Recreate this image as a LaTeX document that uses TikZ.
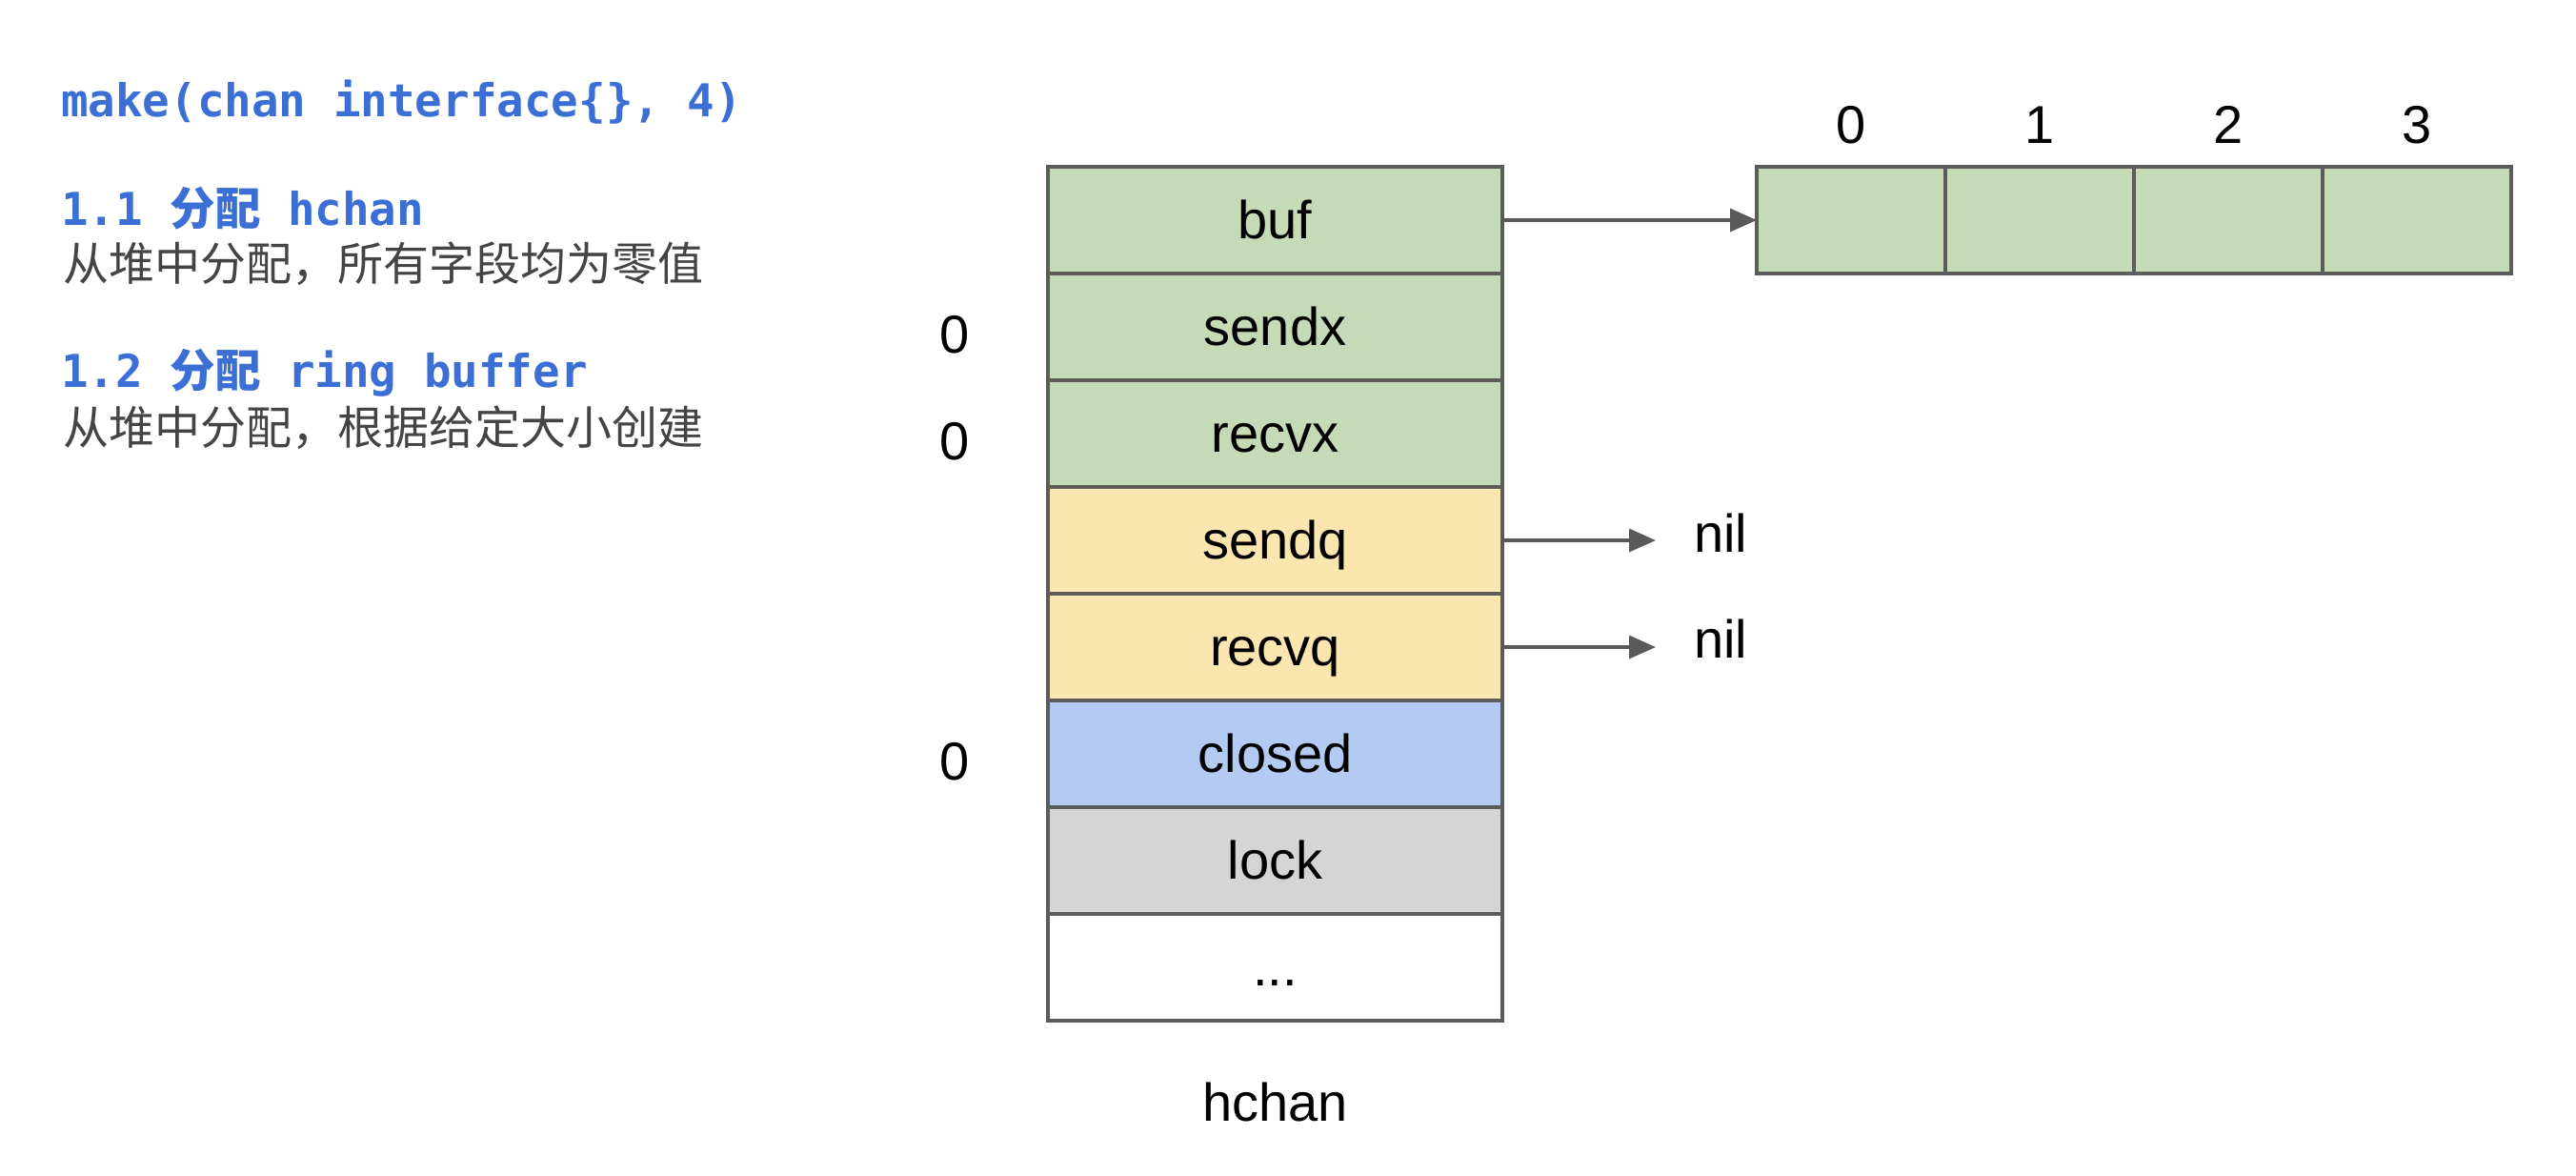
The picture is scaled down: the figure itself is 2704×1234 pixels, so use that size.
\documentclass[tikz,border=0pt]{standalone}
\usepackage{fontspec}
\setmainfont{Liberation Sans}
\newfontfamily\monof{DejaVu Sans Mono}
\newfontfamily\cjkf{Noto Sans CJK SC}
\usetikzlibrary{arrows.meta}
\definecolor{titleblue}{HTML}{3B6FD6}
\definecolor{graytext}{HTML}{444444}
\definecolor{fgreen}{HTML}{C5DBB8}
\definecolor{fyellow}{HTML}{FCE6B0}
\definecolor{fblue}{HTML}{B3CBF2}
\definecolor{fgray}{HTML}{D5D5D5}
\definecolor{bordercol}{HTML}{5C5C5C}
\definecolor{arrowcol}{HTML}{595959}
\tikzset{
  lbl/.style={font=\fontsize{56}{60}\selectfont, text=black, inner sep=0pt, outer sep=0pt},
  rowbox/.style={lbl, draw=bordercol, line width=3.5pt, minimum width=477pt, minimum height=112pt,
    text height=50.7pt, text depth=11.9pt},
  cellbox/.style={draw=bordercol, line width=3.5pt, fill=fgreen, minimum width=198pt, minimum height=112pt,
    inner sep=0pt, outer sep=0pt},
  ptr/.style={draw=arrowcol, line width=3.5pt, -{Triangle[length=28pt,width=24pt]}},
  headtxt/.style={anchor=base west, text=titleblue, inner sep=0pt, font=\monof\bfseries\fontsize{47.5}{50}\selectfont},
  bodytxt/.style={anchor=base west, text=graytext, inner sep=0pt, font=\cjkf\fontsize{48}{50}\selectfont},
}
\begin{document}
\begin{tikzpicture}[x=1pt,y=-1pt]
\fill[white] (0,0) rectangle (2704,1234);
\useasboundingbox (0,0) rectangle (2704,1234);

% left texts
\node[headtxt] (title) at (64,122) {make(chan interface\{\}, 4)};
\node[headtxt] (h1) at (64,236.5) {1.1 {\cjkf\bfseries 分配} hchan};
\node[bodytxt] (b1) at (66,294) {从堆中分配，所有字段均为零值};
\node[headtxt] (h2) at (64,406.5) {1.2 {\cjkf\bfseries 分配} ring buffer};
\node[bodytxt] (b2) at (66,466) {从堆中分配，根据给定大小创建};

% hchan struct
\node[rowbox, fill=fgreen]  (buf)    at (1338.5,231) {buf};
\node[rowbox, fill=fgreen]  (sendx)  at (1338.5,343) {sendx};
\node[rowbox, fill=fgreen]  (recvx)  at (1338.5,455) {recvx};
\node[rowbox, fill=fyellow] (sendq)  at (1338.5,567) {sendq};
\node[rowbox, fill=fyellow] (recvq)  at (1338.5,679) {recvq};
\node[rowbox, fill=fblue]   (closed) at (1338.5,791) {closed};
\node[rowbox, fill=fgray]   (lock)   at (1338.5,903) {lock};
\node[rowbox, fill=white]   (more)   at (1338.5,1015) {...};
\node[lbl, anchor=base] (hchan) at (1338.5,1176) {hchan};

% zero values
\node[lbl, anchor=base] (z1) at (1002,370.5) {0};
\node[lbl, anchor=base] (z2) at (1002,482.5) {0};
\node[lbl, anchor=base] (z3) at (1002,818.5) {0};

% ring buffer
\node[cellbox] (c0) at (1943,231) {};
\node[cellbox] (c1) at (2141,231) {};
\node[cellbox] (c2) at (2339,231) {};
\node[cellbox] (c3) at (2537,231) {};
\node[lbl, anchor=base] (i0) at (1943,150) {0};
\node[lbl, anchor=base] (i1) at (2141,150) {1};
\node[lbl, anchor=base] (i2) at (2339,150) {2};
\node[lbl, anchor=base] (i3) at (2537,150) {3};

% nil labels
\node[lbl, anchor=base west] (nil1) at (1778,579) {nil};
\node[lbl, anchor=base west] (nil2) at (1778,690) {nil};

% pointers
\draw[ptr] (buf.east) -- (c0.west);
\draw[ptr, shorten >=40pt] (sendq.east) -- (sendq.east -| nil1.west);
\draw[ptr, shorten >=40pt] (recvq.east) -- (recvq.east -| nil2.west);
\end{tikzpicture}
\end{document}
